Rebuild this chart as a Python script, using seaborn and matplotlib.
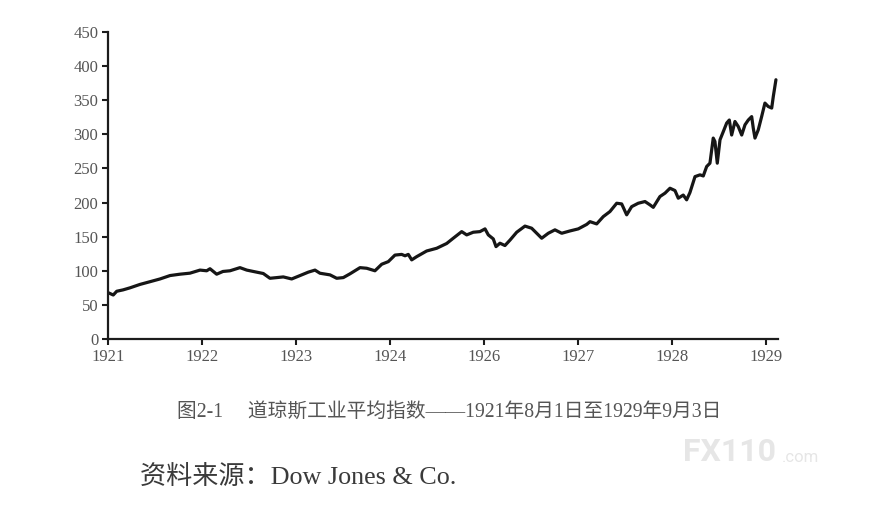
import seaborn as sns
import pandas as pd
import matplotlib.pyplot as plt

# position along the time axis (one unit per labelled tick) and index level
t_pos = [0.000, 0.056, 0.093, 0.160, 0.234, 0.340, 0.447, 0.553, 0.660, 0.766,
         0.872, 0.979, 1.050, 1.085, 1.156, 1.223, 1.298, 1.404, 1.476, 1.546,
         1.652, 1.723, 1.795, 1.865, 1.954, 2.043, 2.131, 2.202, 2.255, 2.362,
         2.433, 2.503, 2.574, 2.681, 2.752, 2.840, 2.912, 2.982, 3.053, 3.124,
         3.160, 3.195, 3.231, 3.284, 3.390, 3.497, 3.603, 3.673, 3.763, 3.816,
         3.886, 3.957, 4.011, 4.046, 4.099, 4.128, 4.170, 4.223, 4.277, 4.348,
         4.436, 4.507, 4.561, 4.614, 4.684, 4.755, 4.827, 4.915, 5.003, 5.093,
         5.128, 5.199, 5.269, 5.340, 5.412, 5.465, 5.518, 5.571, 5.641, 5.713,
         5.766, 5.801, 5.872, 5.926, 5.979, 6.032, 6.067, 6.120, 6.156, 6.191,
         6.245, 6.298, 6.333, 6.369, 6.404, 6.439, 6.457, 6.482, 6.511, 6.546,
         6.582, 6.610, 6.635, 6.670, 6.705, 6.742, 6.777, 6.812, 6.848, 6.865,
         6.883, 6.918, 6.954, 6.989, 7.024, 7.061, 7.078, 7.106]
dji = [68.0, 64.5, 70.0, 72.0, 75.0, 80.0, 84.0, 88.0, 93.0, 95.0,
       96.5, 101.0, 100.0, 103.0, 95.0, 99.0, 100.0, 104.6, 101.0, 99.0,
       96.0, 89.0, 90.0, 91.0, 88.0, 93.0, 98.0, 101.0, 96.4, 94.0,
       89.0, 90.0, 95.5, 104.6, 103.7, 100.0, 109.6, 113.4, 123.0, 124.0,
       122.0, 124.0, 116.0, 120.7, 129.0, 133.0, 140.0, 147.7, 157.4, 152.6,
       156.5, 157.4, 161.4, 152.6, 146.7, 135.4, 140.4, 137.0, 145.0, 156.5,
       165.5, 162.4, 155.0, 147.7, 155.0, 160.0, 155.0, 158.4, 161.4, 168.0,
       172.0, 168.7, 179.4, 186.8, 199.0, 198.0, 182.0, 194.0, 199.0, 201.5,
       196.6, 193.0, 208.8, 213.8, 221.0, 217.6, 206.4, 211.0, 204.0, 214.6,
       238.0, 240.6, 239.0, 252.8, 257.7, 294.5, 289.5, 257.7, 292.0, 304.0,
       316.5, 321.0, 299.0, 318.8, 311.5, 299.0, 314.0, 321.0, 326.0, 309.0,
       294.5, 306.6, 326.0, 345.8, 340.8, 338.5, 355.5, 380.0]

tick_labels = ["1921", "1922", "1923", "1924", "1926", "1927", "1928", "1929"]
y_ticks = [0, 50, 100, 150, 200, 250, 300, 350, 400, 450]

caption = "图2-1\u3000 道琼斯工业平均指数——1921年8月1日至1929年9月3日"
source = "资料来源：Dow Jones & Co."


def main():
    sns.set_style("ticks")
    plt.rcParams['font.family'] = ['Liberation Serif', 'Noto Sans CJK SC', 'DejaVu Sans']

    df = pd.DataFrame({"t": t_pos, "dji": dji})

    fig = plt.figure(figsize=(8.73, 5.13), dpi=100)
    ax = fig.add_axes([108 / 873, 174 / 513, 670 / 873, 307 / 513])
    sns.lineplot(data=df, x="t", y="dji", ax=ax, color="#161616",
                 linewidth=2.3, estimator=None)

    ax.set_xlim(0, 7.128)
    ax.set_ylim(0, 450)
    ax.set_xticks(range(len(tick_labels)))
    ax.set_xticklabels(tick_labels)
    ax.set_yticks(y_ticks)
    ax.set_xlabel("")
    ax.set_ylabel("")
    sns.despine(ax=ax)
    for side in ("left", "bottom"):
        ax.spines[side].set_linewidth(1.6)
        ax.spines[side].set_color("#1c1c1c")
    ax.tick_params(axis="both", length=4, width=1.5, color="#1c1c1c",
                   labelsize=12, labelcolor="#555555", pad=3)

    fig.text(449.5 / 873, (513 - 413) / 513, caption, ha="center", va="center",
             fontsize=14.2, color="#555555")
    fig.text(140 / 873, (513 - 477) / 513, source, ha="left", va="center",
             fontsize=18.8, color="#3a3a3a")
    fig.text(683 / 873, (513 - 452) / 513, "FX110", ha="left", va="center",
             fontsize=23, fontweight="bold", family="Roboto", color="#e6e6e6")
    fig.text(782 / 873, (513 - 458) / 513, ".com", ha="left", va="center",
             fontsize=12, family="Roboto", color="#e6e6e6")

    fig.savefig("out.png", dpi=100)
    plt.close(fig)


if __name__ == '__main__':
    main()
